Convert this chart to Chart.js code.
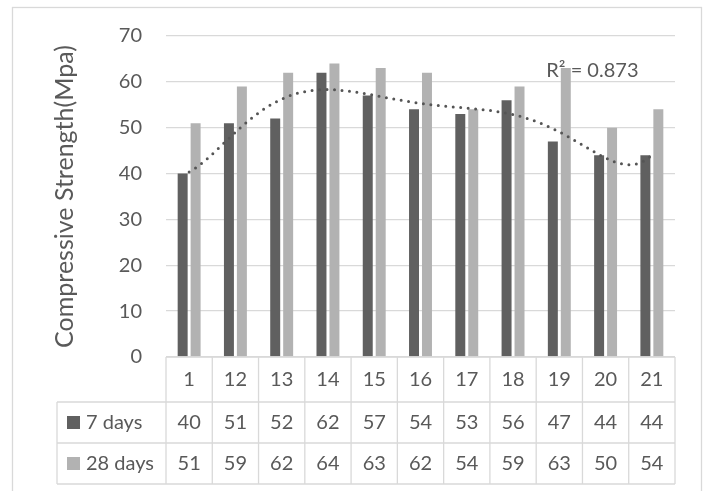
<!DOCTYPE html>
<html>
<head>
<meta charset="utf-8">
<script src="https://cdn.jsdelivr.net/npm/chart.js@4"></script>
<style>
  html, body { margin: 0; padding: 0; background: #ffffff; }
  #wrap { position: relative; width: 705px; height: 491px; }
</style>
</head>
<body>
<div id="wrap"><canvas id="c" width="705" height="491"></canvas></div>
<script>
// Specimen numbers along the x axis
const categories = ['1', '12', '13', '14', '15', '16', '17', '18', '19', '20', '21'];
// Compressive strength after 7 and 28 days of curing (MPa)
const days7 = [40, 51, 52, 62, 57, 54, 53, 56, 47, 44, 44];
const days28 = [51, 59, 62, 64, 63, 62, 54, 59, 63, 50, 54];
const seriesNames = ['7 days', '28 days'];
const yTicks = [0, 10, 20, 30, 40, 50, 60, 70];
const yTitle = 'Compressive Strength(Mpa)';
const trendLabel = 'R² = 0.873';
const trendOrder = 6;

const FONT = 'Lato, "Open Sans", sans-serif';
const TEXT = '#595959';
const GRID = '#d9d9d9';
const DARK = '#606060';
const LIGHT = '#b2b2b2';

// Least-squares polynomial fit of ys over x = 1..n
function polyFit(ys, order) {
  const n = order + 1;
  const A = [];
  for (let r = 0; r < n; r++) A.push(new Array(n + 1).fill(0));
  ys.forEach((y, i) => {
    const x = i + 1;
    for (let r = 0; r < n; r++) {
      for (let c = 0; c < n; c++) A[r][c] += Math.pow(x, r + c);
      A[r][n] += y * Math.pow(x, r);
    }
  });
  for (let k = 0; k < n; k++) {
    let p = k;
    for (let r = k + 1; r < n; r++) if (Math.abs(A[r][k]) > Math.abs(A[p][k])) p = r;
    [A[k], A[p]] = [A[p], A[k]];
    for (let r = 0; r < n; r++) {
      if (r === k) continue;
      const f = A[r][k] / A[k][k];
      for (let c = k; c <= n; c++) A[r][c] -= f * A[k][c];
    }
  }
  return A.map((row, i) => row[n] / row[i]);
}
const polyAt = (coef, x) => coef.reduce((s, a, i) => s + a * Math.pow(x, i), 0);

// Polynomial trendline of the 7-day series, sampled along the specimen index
const coef = polyFit(days7, trendOrder);
const trendPoints = [];
for (let t = 0; t <= 500; t++) {
  const x = t / 50;
  trendPoints.push({ x, y: polyAt(coef, x + 1) });
}
const bars7 = days7.map((v, i) => ({ x: i, y: v }));
const bars28 = days28.map((v, i) => ({ x: i, y: v }));

// Frame, data table under the plot, axis title and trendline label
const tablePlugin = {
  id: 'dataTable',
  beforeDraw(chart) {
    const ctx = chart.ctx;
    ctx.save();
    ctx.strokeStyle = GRID;
    ctx.lineWidth = 1.3;
    ctx.strokeRect(12.5, 7.5, 689, 520);
    ctx.restore();
  },
  afterDraw(chart) {
    const ctx = chart.ctx;
    const xs = chart.scales.x;
    const area = chart.chartArea;
    const colW = (area.right - area.left) / categories.length;
    const top = area.bottom;
    const rowBounds = [top, top + 45, top + 86, top + 127];
    const legendLeft = 57;

    ctx.save();
    ctx.strokeStyle = GRID;
    ctx.lineWidth = 1.3;
    ctx.beginPath();
    ctx.moveTo(area.left, rowBounds[0]); ctx.lineTo(area.right, rowBounds[0]);
    for (let r = 1; r < rowBounds.length; r++) {
      ctx.moveTo(legendLeft, rowBounds[r]); ctx.lineTo(area.right, rowBounds[r]);
    }
    for (let i = 0; i <= categories.length; i++) {
      const x = area.left + i * colW;
      ctx.moveTo(x, rowBounds[0]); ctx.lineTo(x, rowBounds[3]);
    }
    ctx.moveTo(legendLeft, rowBounds[1]); ctx.lineTo(legendLeft, rowBounds[3]);
    ctx.stroke();

    ctx.fillStyle = TEXT;
    ctx.font = '20px ' + FONT;
    ctx.textAlign = 'center';
    ctx.textBaseline = 'middle';
    const rows = [categories, days7, days28];
    rows.forEach((vals, r) => {
      const cy = (rowBounds[r] + rowBounds[r + 1]) / 2;
      vals.forEach((v, i) => ctx.fillText(String(v), xs.getPixelForValue(i), cy));
    });
    [DARK, LIGHT].forEach((col, r) => {
      const cy = (rowBounds[r + 1] + rowBounds[r + 2]) / 2;
      ctx.fillStyle = col;
      ctx.fillRect(67, cy - 6.5, 13, 13);
      ctx.fillStyle = TEXT;
      ctx.textAlign = 'left';
      ctx.fillText(seriesNames[r], 86, cy);
    });

    // vertical axis title
    ctx.save();
    ctx.translate(65, (area.top + area.bottom) / 2);
    ctx.rotate(-Math.PI / 2);
    ctx.textAlign = 'center';
    ctx.font = '25px ' + FONT;
    ctx.fillText(yTitle, 0, 0);
    ctx.restore();

    // goodness of fit for the 7-day trendline
    ctx.font = '20px ' + FONT;
    ctx.textAlign = 'left';
    ctx.fillText(trendLabel, xs.getPixelForValue(8) - 13, chart.scales.y.getPixelForValue(62.5));
    ctx.restore();
  }
};

new Chart(document.getElementById('c'), {
  type: 'bar',
  data: {
    datasets: [
      { label: seriesNames[0], data: bars7, backgroundColor: DARK, categoryPercentage: 0.56, barPercentage: 0.77, order: 2 },
      { label: seriesNames[1], data: bars28, backgroundColor: LIGHT, categoryPercentage: 0.56, barPercentage: 0.77, order: 2 },
      {
        type: 'line', label: 'trend', data: trendPoints,
        borderColor: '#555555', borderWidth: 3, borderDash: [0, 7.5], borderCapStyle: 'round',
        pointRadius: 0, fill: false, tension: 0, order: 1
      }
    ]
  },
  options: {
    responsive: false,
    animation: false,
    layout: { padding: { top: 35, bottom: 134, left: 0, right: 30 } },
    plugins: { legend: { display: false }, tooltip: { enabled: false } },
    scales: {
      x: {
        type: 'linear', display: false, offset: false,
        min: -0.5, max: categories.length - 0.5,
        afterBuildTicks: s => { s.ticks = categories.map((c, i) => ({ value: i })); }
      },
      y: {
        min: yTicks[0], max: yTicks[yTicks.length - 1],
        afterBuildTicks: s => { s.ticks = yTicks.map(v => ({ value: v })); },
        afterFit: s => { s.width = 166; },
        grid: { color: GRID, lineWidth: 1.3, drawTicks: false },
        border: { display: false },
        ticks: { padding: 24, color: TEXT, font: { family: FONT, size: 20 } }
      }
    }
  },
  plugins: [tablePlugin]
});
</script>
</body>
</html>
